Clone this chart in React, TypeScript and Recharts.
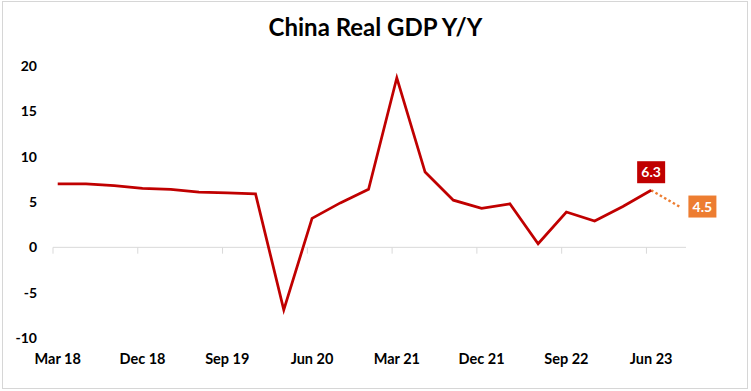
import { LineChart, Line, XAxis, YAxis, ReferenceLine, LabelList } from "recharts";

const quarters = [
  "Mar 18", "Jun 18", "Sep 18", "Dec 18",
  "Mar 19", "Jun 19", "Sep 19", "Dec 19",
  "Mar 20", "Jun 20", "Sep 20", "Dec 20",
  "Mar 21", "Jun 21", "Sep 21", "Dec 21",
  "Mar 22", "Jun 22", "Sep 22", "Dec 22",
  "Mar 23", "Jun 23",
];
const gdp = [
  7.0, 7.0, 6.8, 6.5,
  6.4, 6.1, 6.0, 5.9,
  -6.9, 3.2, 4.9, 6.4,
  18.7, 8.3, 5.2, 4.3,
  4.8, 0.4, 3.9, 2.9,
  4.5, 6.3,
];
const forecastQuarter = "Sep 23";
const forecastValue = 4.5;

const xTickLabels = ["Mar 18", "Dec 18", "Sep 19", "Jun 20", "Mar 21", "Dec 21", "Sep 22", "Jun 23"];
const yTicks = [-10, -5, 0, 5, 10, 15, 20];

const MONTHS = ["Jan", "Feb", "Mar", "Apr", "May", "Jun", "Jul", "Aug", "Sep", "Oct", "Nov", "Dec"];
// months since Jan 2018 (start of month)
const monthOf = (q: string) => {
  const [mon, yy] = q.split(" ");
  return (Number(yy) - 18) * 12 + MONTHS.indexOf(mon);
};

const RED = "#C00000";
const ORANGE = "#ED7D31";
const FONT = "Lato, 'Open Sans', sans-serif";

const last = quarters.length - 1;
const data = [
  ...quarters.map((q, i) => ({
    m: monthOf(q) + 0.5,
    label: q,
    actual: gdp[i],
    forecast: i === last ? gdp[i] : null,
  })),
  { m: monthOf(forecastQuarter) + 0.5, label: forecastQuarter, actual: null, forecast: forecastValue },
];

const labelByM: Record<number, string> = {};
data.forEach((d) => (labelByM[d.m] = d.label));

function ValueBox({ x, y, value, fill, side }: any) {
  const w = 28;
  const h = 22;
  const bx = side === "right" ? x + 9 : x - w / 2;
  const by = side === "right" ? y - h / 2 : y - h - 7;
  return (
    <g>
      <rect x={bx} y={by} width={w} height={h} fill={fill} />
      <text
        x={bx + w / 2}
        y={by + h / 2 + 5}
        textAnchor="middle"
        fill="#fff"
        fontFamily={FONT}
        fontWeight={700}
        fontSize={14}
      >
        {Number(value).toFixed(1)}
      </text>
    </g>
  );
}

export default function App() {
  return (
    <div style={{ position: "absolute", left: 0, top: 0, width: 751, height: 391, background: "#fff" }}>
      <div
        style={{
          position: "absolute",
          left: 2,
          top: 1,
          width: 746,
          height: 388,
          border: "1px solid #d6d6d6",
          boxSizing: "border-box",
        }}
      />
      <div
        style={{
          position: "absolute",
          left: 0,
          top: 13,
          width: 751,
          textAlign: "center",
          fontFamily: FONT,
          fontWeight: 700,
          fontSize: 24,
          lineHeight: "28px",
          color: "#000",
        }}
      >
        China Real GDP Y/Y
      </div>
      <div style={{ position: "absolute", left: 0, top: 0 }}>
        <LineChart width={751} height={391} data={data} margin={{ top: 66, right: 65, bottom: 23, left: 0 }}>
          <XAxis
            dataKey="m"
            type="number"
            domain={[2, 69.2]}
            ticks={xTickLabels.map((q) => monthOf(q) + 0.5)}
            tickFormatter={(v) => labelByM[v] ?? ""}
            axisLine={false}
            tickLine={false}
            tickSize={6}
            tickMargin={10}
            height={30}
            tick={{ fill: "#000", fontFamily: FONT, fontWeight: 700, fontSize: 14.5 }}
          />
          <YAxis
            domain={[-10, 20]}
            ticks={yTicks}
            axisLine={false}
            tickLine={false}
            tickSize={6}
            tickMargin={10}
            width={53}
            tick={{ fill: "#000", fontFamily: FONT, fontWeight: 700, fontSize: 14 }}
          />
          <ReferenceLine y={0} stroke="#d9d9d9" strokeWidth={1} />
          {xTickLabels.map((q) => (
            <ReferenceLine
              key={q}
              segment={[
                { x: monthOf(q), y: 0 },
                { x: monthOf(q), y: -0.7 },
              ]}
              stroke="#d9d9d9"
              strokeWidth={1}
              ifOverflow="visible"
            />
          ))}
          <Line
            dataKey="forecast"
            stroke={ORANGE}
            strokeWidth={2.5}
            strokeDasharray="2.5 2.5"
            dot={false}
            activeDot={false}
            isAnimationActive={false}
          >
            <LabelList
              dataKey="forecast"
              content={(p: any) =>
                p.index === data.length - 1 ? <ValueBox {...p} fill={ORANGE} side="right" /> : null
              }
            />
          </Line>
          <Line
            dataKey="actual"
            stroke={RED}
            strokeWidth={2.75}
            dot={false}
            activeDot={false}
            isAnimationActive={false}
          >
            <LabelList
              dataKey="actual"
              content={(p: any) => (p.index === last ? <ValueBox {...p} fill={RED} side="top" /> : null)}
            />
          </Line>
        </LineChart>
      </div>
    </div>
  );
}
